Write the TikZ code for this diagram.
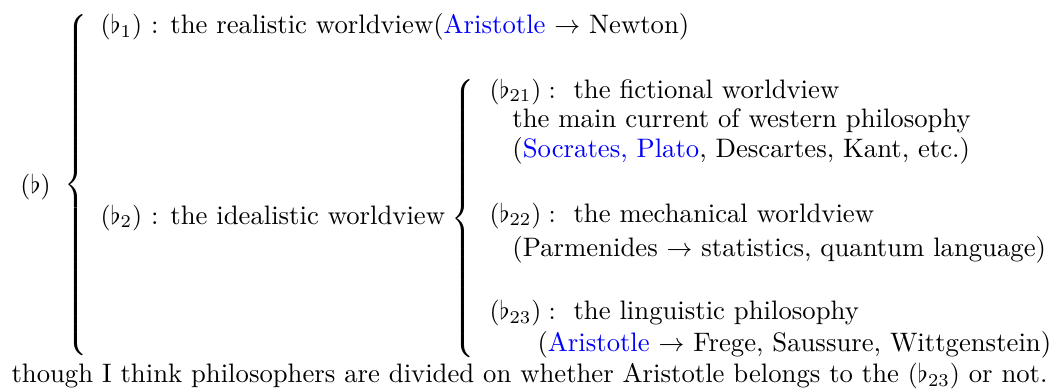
\documentclass[tikz,border=0pt]{standalone}
\usepackage{amsmath}
\usepackage{amssymb}
\usepackage{tikz}
\usetikzlibrary{positioning}
\definecolor{nameblue}{RGB}{0,0,255}
\newcommand{\tallbrace}[1]{$\left\{\vcenter{\hbox{\rule{0pt}{#1}}}\right.$}

\begin{document}
\begin{tikzpicture}[txt/.style={inner sep=0pt, anchor=base west, font=\fontsize{10.35}{12.4}\selectfont},
    brc/.style={inner sep=0pt, anchor=west}]
  \useasboundingbox (0,0) rectangle (14.41,5.339);
  % top level
  \node[txt] (flat) at (0.272,2.710) {$(\flat)$};
  \node[brc] (bracea) at (0.872,2.819) {\tallbrace{134pt}};
  \node[txt] (flata) at (1.362,4.883) {$(\flat_1)$ : the realistic worldview(\textcolor{nameblue}{Aristotle} $\rightarrow$ Newton)};
  \node[txt] (flatb) at (1.362,2.288) {$(\flat_2)$ : the idealistic worldview};
  % second level
  \node[brc] (braceb) at (6.143,2.363) {\tallbrace{108pt}};
  \node[txt] (flatba) at (6.660,4.004) {$(\flat_{21}):$ \ the fictional worldview};
  \node[txt] (currt) at (6.973,3.596) {the main current of western philosophy};
  \node[txt] (socr) at (6.973,3.187) {(\textcolor{nameblue}{Socrates, Plato}, Descartes, Kant, etc.)};
  \node[txt] (flatbb) at (6.660,2.315) {$(\flat_{22}):$ \ the mechanical worldview};
  \node[txt] (parm) at (6.973,1.839) {(Parmenides $\rightarrow$ statistics, quantum language)};
  \node[txt] (flatbc) at (6.660,0.981) {$(\flat_{23}):$ \ the linguistic philosophy};
  \node[txt] (arist) at (7.314,0.558) {(\textcolor{nameblue}{Aristotle} $\rightarrow$ Frege, Saussure, Wittgenstein)};
  % remark
  \node[txt] (remark) at (0.150,0.123) {though I think philosophers are divided on whether Aristotle belongs to the $(\flat_{23})$ or not.};
\end{tikzpicture}
\end{document}
